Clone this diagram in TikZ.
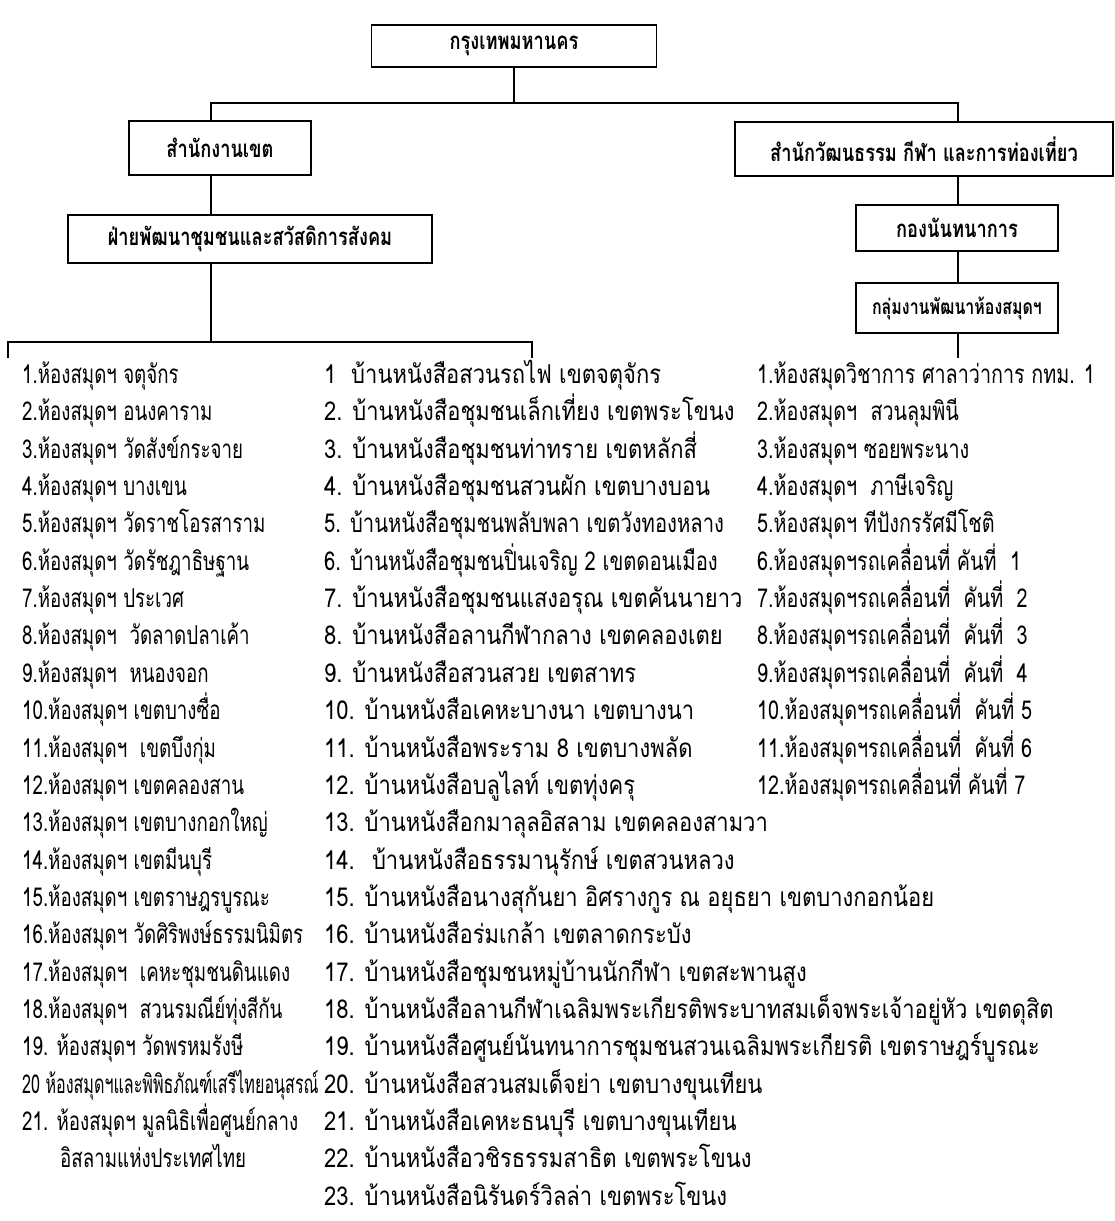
\documentclass[tikz,border=0pt]{standalone}
\usepackage{fontspec}
\setmainfont[Script=Thai,FakeStretch=0.76]{Loma}
\newfontfamily\libfont[Script=Thai,FakeStretch=0.72]{Loma}
\newfontfamily\bookfont[Script=Thai,FakeStretch=0.845]{Loma}
\usetikzlibrary{positioning}

\tikzset{
  orgbox/.style={draw, line width=1.2pt, inner sep=0pt,
    font=\bfseries\fontsize{24}{26}\selectfont},
  item/.style={anchor=west, inner sep=0pt, text height=17pt, text depth=4pt,
    font=\fontsize{26}{28}\selectfont},
  libitem/.style={item, font=\libfont\fontsize{26}{28}\selectfont},
  bookitem/.style={item, font=\bookfont\fontsize{26}{28}\selectfont},
  link/.style={line width=1.2pt}
}

\begin{document}
\begin{tikzpicture}[x=1pt, y=-1pt]
\useasboundingbox (0,0) rectangle (1115,1221);

% org boxes
\node[orgbox, minimum width=285, minimum height=42] (bkk) at (514,46) {กรุงเทพมหานคร};
\node[orgbox, minimum width=182, minimum height=54] (district) at (220,148) {สำนักงานเขต};
\node[orgbox, minimum width=378, minimum height=54] (culture) at (924,149) {สำนักวัฒนธรรม กีฬา และการท่องเที่ยว};
\node[orgbox, minimum width=364, minimum height=48] (welfare) at (250,239) {ฝ่ายพัฒนาชุมชนและสวัสดิการสังคม};
\node[orgbox, minimum width=202, minimum height=46] (recreation) at (957,228) {กองนันทนาการ};
\node[orgbox, minimum width=202, minimum height=50, font=\bfseries\fontsize{21}{24}\selectfont] (libgroup) at (957,308) {กลุ่มงานพัฒนาห้องสมุดฯ};

% junctions
\coordinate (jtop) at (514,103);
\coordinate (jleft) at (211,103);
\coordinate (jright) at (958,103);
\coordinate (jlist) at (211,342);
\coordinate (endA) at (8,358);
\coordinate (endB) at (532,358);
\coordinate (endC) at (958,358);

\draw[link] (bkk.south) -- (jtop);
\draw[link] (district.north -| jleft) |- (jtop) -| (culture.north -| jright);
\draw[link] (district.south -| jleft) -- (welfare.north -| jleft);
\draw[link] (welfare.south -| jleft) -- (jlist);
\draw[link] (endA) |- (jlist) -| (endB);
\draw[link] (culture.south -| jright) -- (recreation.north -| jright);
\draw[link] (recreation.south -| jright) -- (libgroup.north -| jright);
\draw[link] (libgroup.south -| jright) -- (endC);

% district libraries
\foreach \txt [count=\i] in {
  1.ห้องสมุดฯ จตุจักร,
  2.ห้องสมุดฯ อนงคาราม,
  3.ห้องสมุดฯ วัดสังข์กระจาย,
  4.ห้องสมุดฯ บางเขน,
  5.ห้องสมุดฯ วัดราชโอรสาราม,
  6.ห้องสมุดฯ วัดรัชฎาธิษฐาน,
  7.ห้องสมุดฯ ประเวศ,
  8.ห้องสมุดฯ \ วัดลาดปลาเค้า,
  9.ห้องสมุดฯ \ หนองจอก,
  10.ห้องสมุดฯ เขตบางซื่อ,
  11.ห้องสมุดฯ \ เขตบึงกุ่ม,
  12.ห้องสมุดฯ เขตคลองสาน,
  13.ห้องสมุดฯ เขตบางกอกใหญ่,
  14.ห้องสมุดฯ เขตมีนบุรี,
  15.ห้องสมุดฯ เขตราษฎรบูรณะ,
  16.ห้องสมุดฯ วัดศิริพงษ์ธรรมนิมิตร,
  17.ห้องสมุดฯ \ เคหะชุมชนดินแดง,
  18.ห้องสมุดฯ \ สวนรมณีย์ทุ่งสีกัน,
  19. ห้องสมุดฯ วัดพรหมรังษี,
  \scalebox{0.86}[1]{20 ห้องสมุดฯและพิพิธภัณฑ์เสรีไทยอนุสรณ์},
  21. ห้องสมุดฯ มูลนิธิเพื่อศูนย์กลาง}
  \node[libitem] (lib-\i) at (22,{377+37.35*(\i-1)}) {\txt};
\node[libitem] (lib-21b) at (60,{377+37.35*21}) {อิสลามแห่งประเทศไทย};

% book houses
\foreach \txt [count=\i] in {
  1 \ บ้านหนังสือสวนรถไฟ เขตจตุจักร,
  2. บ้านหนังสือชุมชนเล็กเที่ยง เขตพระโขนง,
  3. บ้านหนังสือชุมชนท่าทราย เขตหลักสี่,
  4. บ้านหนังสือชุมชนสวนผัก เขตบางบอน,
  \scalebox{0.92}[1]{5. บ้านหนังสือชุมชนพลับพลา เขตวังทองหลาง},
  \scalebox{0.92}[1]{6. บ้านหนังสือชุมชนปิ่นเจริญ 2 เขตดอนเมือง},
  7. บ้านหนังสือชุมชนแสงอรุณ เขตคันนายาว,
  8. บ้านหนังสือลานกีฬากลาง เขตคลองเตย,
  9. บ้านหนังสือสวนสวย เขตสาทร,
  10. บ้านหนังสือเคหะบางนา เขตบางนา,
  11. บ้านหนังสือพระราม 8 เขตบางพลัด,
  12. บ้านหนังสือบลูไลท์ เขตทุ่งครุ,
  13. บ้านหนังสือกมาลุลอิสลาม เขตคลองสามวา,
  14. \ บ้านหนังสือธรรมานุรักษ์ เขตสวนหลวง,
  15. บ้านหนังสือนางสุกันยา อิศรางกูร ณ อยุธยา เขตบางกอกน้อย,
  16. บ้านหนังสือร่มเกล้า เขตลาดกระบัง,
  17. บ้านหนังสือชุมชนหมู่บ้านนักกีฬา เขตสะพานสูง,
  18. บ้านหนังสือลานกีฬาเฉลิมพระเกียรติพระบาทสมเด็จพระเจ้าอยู่หัว เขตดุสิต,
  19. บ้านหนังสือศูนย์นันทนาการชุมชนสวนเฉลิมพระเกียรติ เขตราษฎร์บูรณะ,
  20. บ้านหนังสือสวนสมเด็จย่า เขตบางขุนเทียน,
  21. บ้านหนังสือเคหะธนบุรี เขตบางขุนเทียน,
  22. บ้านหนังสือวชิรธรรมสาธิต เขตพระโขนง,
  23. บ้านหนังสือนิรันดร์วิลล่า เขตพระโขนง}
  \node[bookitem] (book-\i) at (324,{377+37.35*(\i-1)}) {\txt};

% recreation libraries
\foreach \txt [count=\i] in {
  1.ห้องสมุดวิชาการ ศาลาว่าการ กทม. 1,
  2.ห้องสมุดฯ \ สวนลุมพินี,
  3.ห้องสมุดฯ ซอยพระนาง,
  4.ห้องสมุดฯ \ ภาษีเจริญ,
  5.ห้องสมุดฯ ทีปังกรรัศมีโชติ,
  6.ห้องสมุดฯรถเคลื่อนที่ คันที่ \ 1,
  7.ห้องสมุดฯรถเคลื่อนที่ \ คันที่ \ 2,
  8.ห้องสมุดฯรถเคลื่อนที่ \ คันที่ \ 3,
  9.ห้องสมุดฯรถเคลื่อนที่ \ คันที่ \ 4,
  10.ห้องสมุดฯรถเคลื่อนที่ \ คันที่ 5,
  11.ห้องสมุดฯรถเคลื่อนที่ \ คันที่ 6,
  12.ห้องสมุดฯรถเคลื่อนที่ คันที่ 7}
  \node[item] (mob-\i) at (757,{377+37.35*(\i-1)}) {\txt};
\end{tikzpicture}
\end{document}
